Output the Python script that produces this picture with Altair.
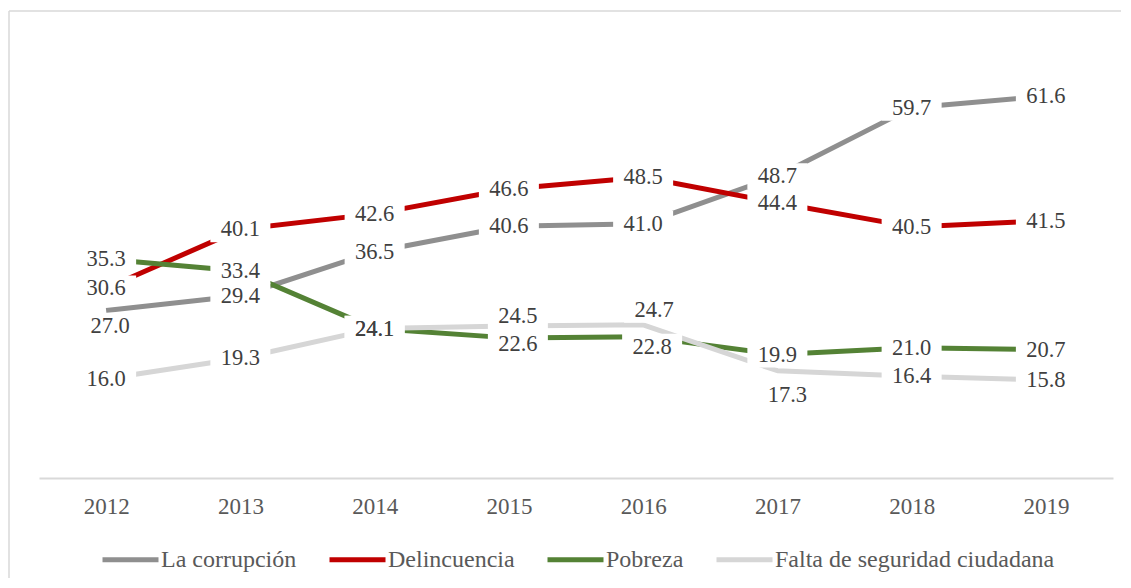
import altair as alt
import pandas as pd

years = [2012, 2013, 2014, 2015, 2016, 2017, 2018, 2019]
series = ["La corrupción", "Delincuencia", "Pobreza", "Falta de seguridad ciudadana"]
corrupcion = [27.0, 29.4, 36.5, 40.6, 41.0, 48.7, 59.7, 61.6]
delincuencia = [30.6, 40.1, 42.6, 46.6, 48.5, 44.4, 40.5, 41.5]
pobreza = [35.3, 33.4, 24.1, 22.6, 22.8, 19.9, 21.0, 20.7]
seguridad = [16.0, 19.3, 24.1, 24.5, 24.7, 17.3, 16.4, 15.8]
colors = ["#8f8f8f", "#c00000", "#548235", "#d6d6d6"]

# data-label nudges in pixels (right, down), as placed in the original
nudges = {
    ("La corrupción", 2012): (4, 15),
    ("Pobreza", 2015): (9, 6),
    ("Falta de seguridad ciudadana", 2015): (9, -10),
    ("Pobreza", 2016): (9, 10),
    ("Falta de seguridad ciudadana", 2016): (11, -15),
    ("Falta de seguridad ciudadana", 2017): (10, 24),
}

W, H = 1074, 434
X_DOM = [2011.5, 2019.5]
Y_DOM = [0, 70]
px_per_year = W / (X_DOM[1] - X_DOM[0])
px_per_unit = H / (Y_DOM[1] - Y_DOM[0])

rows = []
for name, vals in zip(series, [corrupcion, delincuencia, pobreza, seguridad]):
    for yr, v in zip(years, vals):
        dx, dy = nudges.get((name, yr), (0, 0))
        rows.append({
            "series": name, "year": yr, "value": v,
            "label": f"{v:.1f}",
            "lx": yr + dx / px_per_year,
            "ly": v - dy / px_per_unit,
        })
df = pd.DataFrame(rows)

FONT = "Liberation Serif"
xs = alt.Scale(domain=X_DOM, nice=False, zero=False)
ys = alt.Scale(domain=Y_DOM, nice=False)

lines = alt.Chart(df).mark_line(strokeWidth=5, strokeJoin="round").encode(
    x=alt.X("year:Q", scale=xs, title=None,
            axis=alt.Axis(values=years, format="d", grid=False, ticks=False,
                          domainColor="#d9d9d9", domainWidth=2,
                          labelFont=FONT, labelFontSize=23, labelColor="#595959",
                          labelPadding=17)),
    y=alt.Y("value:Q", scale=ys, axis=None),
    color=alt.Color("series:N", sort=series, title=None,
                    scale=alt.Scale(domain=series, range=colors),
                    legend=alt.Legend(orient="none", legendX=61, legendY=485,
                                      direction="horizontal", symbolType="stroke",
                                      symbolSize=3136, symbolStrokeWidth=5,
                                      labelFont=FONT, labelFontSize=24,
                                      labelColor="#595959", labelOffset=0,
                                      columnPadding=22, labelLimit=400)),
    order=alt.Order("year:Q"),
)

box_path = "M-1,-0.43H1V0.43H-1Z"
boxes = alt.Chart(df).mark_point(shape=box_path, filled=True, color="white",
                                 opacity=1, size=3600, strokeWidth=0).encode(
    x=alt.X("lx:Q", scale=xs),
    y=alt.Y("ly:Q", scale=ys),
)

labels = alt.Chart(df).mark_text(font=FONT, fontSize=22.5, fontWeight="normal",
                                 color="#404040",
                                 align="center", baseline="middle").encode(
    x=alt.X("lx:Q", scale=xs),
    y=alt.Y("ly:Q", scale=ys),
    text="label:N",
)

frame_data = alt.Data(values=[{"k": 1}])
left_border = alt.Chart(frame_data).mark_rule(color="#d9d9d9", strokeWidth=1.5).encode(
    x=alt.value(-30), y=alt.value(-33), y2=alt.value(560))
top_border = alt.Chart(frame_data).mark_rule(color="#d9d9d9", strokeWidth=1.5).encode(
    x=alt.value(-30), x2=alt.value(1100), y=alt.value(-33))

chart = alt.layer(left_border, top_border, lines, boxes, labels).properties(
    width=W, height=H,
    background="white",
    autosize=alt.AutoSizeParams(type="none"),
    padding={"left": 31, "top": 36, "right": 8, "bottom": 100},
).configure_view(stroke="transparent", strokeWidth=0).configure_text(font=FONT)

chart.save("out.html", embed_options={"renderer": "svg", "actions": False})
